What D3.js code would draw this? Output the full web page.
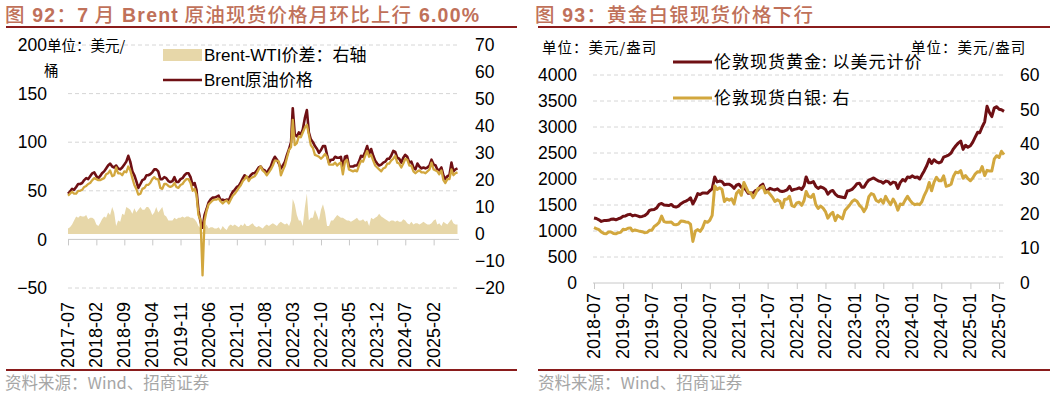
<!DOCTYPE html>
<html><head><meta charset="utf-8">
<script src="https://cdn.jsdelivr.net/npm/d3@7"></script>
<style>
html,body{margin:0;padding:0;background:#fff;}
svg{display:block;}
text{font-family:"Liberation Sans",Arial,"Noto Sans CJK SC",sans-serif;}
.cjk{font-family:"Noto Sans CJK SC","Liberation Sans",sans-serif;}
</style></head>
<body>
<svg id="c" width="1052" height="393"></svg>
<script>
// ---------- Chart 92: Brent / WTI / spread (semi-monthly, from 2017-07) ----------
const oilStart = "2017-07";
const brent = [
47,49,52,51,54,57,57,58,61,63,62,65,
68,69,65,63,65,68,70,73,76,78,75,74,76,73,72,74,77,80,86,80,70,66,60,53,
57,61,62,66,66,67,69,72,72,70,62,62,64,63,60,59,60,64,59,59,62,63,66,68,
68,64,56,58,51,30,18,12,25,31,38,41,43,43,44,45,40,41,40,41,40,45,49,51,
54,55,59,63,66,64,63,66,68,68,71,74,75,72,71,68,72,75,81,85,82,78,73,76,
80,87,93,100,135,108,106,110,108,113,125,133,110,103,100,96,93,89,92,96,96,87,79,82,
82,85,84,84,85,73,85,86,75,75,75,76,76,80,86,85,90,96,88,93,86,81,78,76,
77,79,80,83,83,86,91,90,84,83,79,84,87,85,79,80,74,72,78,75,73,74,73,74,
76,82,77,76,72,71,74,66,62,65,66,79,70,72,73];
const wti = [
45,47,49,47,47,50,50,51,54,55,57,58,
61,63,62,61,61,62,63,67,68,71,65,66,74,68,68,66,70,69,75,71,63,56,52,46,
47,52,53,56,56,58,62,64,62,62,53,52,57,57,55,54,55,58,54,53,56,57,60,62,
62,58,50,52,46,25,20,-37,19,29,36,38,40,41,41,42,39,37,39,40,37,41,45,47,
50,53,56,60,62,65,60,63,64,65,68,72,75,71,69,66,69,72,76,81,81,80,66,71,
76,84,92,95,123,97,99,106,105,110,115,118,108,97,94,87,86,85,83,85,88,85,77,77,
77,79,76,78,79,67,80,82,72,71,70,71,70,76,81,80,86,91,85,87,81,76,74,72,
70,73,74,78,78,81,83,86,79,78,74,78,83,82,76,76,70,68,70,71,69,69,68,70,
72,79,72,71,70,67,71,61,58,62,62,72,66,68,69];
const spread = [
2,2.5,3.5,5,6.5,6,6.8,6.5,6.5,7,5.5,6,
6,5.5,3.5,3,4,5.5,6.5,6,8,7,10,8,3,5,4.5,7.5,7,10,9.5,9,7.5,9.5,8,9,
10,9,9,10,10,9,7,8,10,8,9,10,7,6.5,5,5,5,6,5.5,6,6,6.5,6,6.5,
6.5,6,6,5.5,4.5,3,2,0.5,2,3.5,2,2.5,2.5,2,2,2.5,1.5,3,2,1.5,3,3.5,3,3.5,
3,2.5,3.5,3,4,3,3,3.5,4,3,2.5,3,2.5,2,3,3.5,3,3.5,4,3.5,3,4,4.5,4,
3.5,4,3,5,13,11,7,5,5,3,10,15,5,6,6,9,7,5,9,11,8,3,3,5,
5,6,7,6.5,6,6,5.5,5,5,4.5,5,5.5,6,5,5,5.5,4.5,5,3,6,5.5,6,6.5,7.5,
6.5,6,5.5,5,4.5,5,5,4.5,5,4.5,4.5,5.5,5,4,3.5,4.5,3.5,4,4,3.5,4,4.5,4,3.5,
3.5,4,5,5.5,3.5,4,3,4.5,4,3.5,4.5,5.5,4,3.5,3.5];
const oilTicks = ["2017-07","2018-02","2018-09","2019-04","2019-11","2020-06","2021-01","2021-08","2022-03","2022-10","2023-05","2023-12","2024-07","2025-02"];
const oilLeftTicks = [-50,0,50,100,150,200];
const oilRightTicks = [-20,-10,0,10,20,30,40,50,60,70];

// ---------- Chart 93: gold / silver (semi-monthly, from 2018-07) ----------
const metalStart = "2018-07";
const gold = [
1250,1240,1215,1185,1200,1200,1205,1225,1230,1215,1235,1250,
1285,1290,1315,1320,1290,1305,1290,1275,1280,1295,1330,1395,1410,1415,1445,1510,1530,1500,1495,1490,1510,1470,1460,1480,
1525,1555,1575,1600,1640,1520,1610,1720,1700,1730,1730,1725,1775,1810,2040,1945,1960,1950,1890,1900,1900,1870,1820,1880,
1900,1840,1840,1780,1725,1730,1730,1780,1790,1865,1900,1780,1780,1820,1800,1790,1810,1770,1760,1770,1790,1860,1780,1800,
1810,1830,1800,1870,2040,1930,1930,1950,1860,1820,1850,1830,1800,1710,1760,1780,1710,1670,1660,1650,1640,1770,1780,1800,
1850,1910,1920,1840,1840,1920,1980,2000,2020,1990,1960,1950,1920,1960,1950,1900,1940,1930,1820,1930,1990,1960,2040,2030,
2060,2030,2040,2000,2080,2160,2260,2380,2300,2370,2330,2310,2330,2420,2440,2460,2500,2580,2640,2690,2730,2570,2650,2610,
2640,2710,2810,2900,2890,3000,3100,3400,3280,3200,3370,3390,3340,3330,3300];
const silver = [
16.0,15.7,15.4,14.7,14.3,14.2,14.7,14.7,14.3,14.2,14.5,14.6,
15.5,15.4,15.8,15.9,15.0,15.3,15.1,14.9,14.8,14.5,14.6,15.2,15.2,16.3,16.8,17.5,19.3,17.7,17.5,17.5,17.6,16.9,16.8,17.0,
17.9,17.8,17.6,17.5,17.0,12.0,15.0,15.4,14.9,15.9,17.8,17.5,18.1,19.5,28.0,27.0,27.5,27.0,23.5,24.3,23.9,24.3,22.8,25.8,
26.7,25.3,29.0,27.5,26.2,26.0,24.6,25.8,27.3,27.4,27.9,26.0,26.4,25.6,24.7,23.5,24.0,23.6,21.7,24.1,24.2,25.0,22.3,22.0,
23.1,23.3,22.4,23.8,26.4,25.0,24.7,25.6,22.6,21.5,22.2,21.6,20.6,18.7,19.8,20.4,18.0,19.5,19.0,18.5,20.9,21.7,22.5,23.5,
24.0,23.6,22.4,21.7,20.6,21.8,24.9,25.8,25.5,23.9,23.4,24.1,23.0,25.0,23.6,22.6,24.2,23.0,21.0,22.8,22.6,23.9,25.0,23.9,
23.0,22.6,22.8,22.6,23.5,25.3,26.8,29.0,26.6,29.0,30.5,29.5,29.5,30.9,27.9,28.1,28.5,30.8,32.0,31.8,32.4,30.2,31.0,30.1,
29.5,30.3,31.5,32.1,32.0,33.6,31.0,32.5,32.3,32.3,35.8,36.7,36.2,38.0,37.0];
const metalTicks = ["2018-07","2019-01","2019-07","2020-01","2020-07","2021-01","2021-07","2022-01","2022-07","2023-01","2023-07","2024-01","2024-07","2025-01","2025-07"];
const metalLeftTicks = [0,500,1000,1500,2000,2500,3000,3500,4000];
const metalRightTicks = [0,10,20,30,40,50,60];

// ---------- helpers ----------
const parseM = d3.timeParse("%Y-%m");
function semiDates(start, n){ // category dates: 1st and 16th of each month
  const s = parseM(start);
  return d3.range(n).map(i => { const d = d3.timeMonth.offset(s, Math.floor(i/2)); if(i%2) d.setDate(16); return d; });
}
const svg = d3.select("#c");
const MAROON = "#6f1014", GOLDC = "#d2a73e", SPREADC = "#e7d7a9", RED = "#8a1c1c", TITLEC = "#c0715a";
const FS = 17.5;
const fmt = d3.format("d");

// title drawn as consecutive separate text pieces (Latin bold, CJK regular)
function title(x0, parts){
  let x = x0;
  parts.forEach(p => {
    const t = svg.append("text").attr("x", x).attr("y", 22).attr("fill", TITLEC)
      .style("font-size","19.5px").style("letter-spacing","1.2px")
      .style("font-family", p[1] ? "Liberation Sans, Arial" : "Noto Sans CJK SC")
      .style("font-weight", p[1] ? "bold" : "500").style("white-space","pre").text(p[0]);
    x += t.node().getComputedTextLength() + (p[0].endsWith(" ") ? 0 : 0);
  });
}
function hline(x1,x2,y){ svg.append("line").attr("x1",x1).attr("x2",x2).attr("y1",y).attr("y2",y).attr("stroke",RED).attr("stroke-width",2); }
function source(x){ svg.append("text").attr("class","cjk").attr("x",x).attr("y",389).attr("fill","#a6a6a6").style("font-size","16.5px").text("资料来源：Wind、招商证券"); }
function styleLabels(sel){ sel.selectAll("text").style("font-size",FS+"px").attr("fill","#000").style("font-family","Liberation Sans, Arial"); }

// ===== Chart 92 =====
title(5, [["图",0],[" 92",1],["：",0],["7",1],[" 月",0],[" Brent",1],[" 原油现货价格月环比上行",0],[" 6.00%",1]]);
hline(6, 517, 27);
hline(6, 517, 370);
source(5);
{
  const n = brent.length, dates = semiDates(oilStart, n);
  const x = d3.scaleTime().domain([parseM("2017-07"), parseM("2025-08")]).range([68, 457.5]);
  const yL = d3.scaleLinear().domain([-50,200]).range([288,45]);
  const yR = d3.scaleLinear().domain([-20,70]).range([288,45]);
  const g = svg.append("g");
  g.selectAll(".gl").data(oilLeftTicks.filter(v=>v!==0)).enter().append("line")
    .attr("x1",68).attr("x2",459).attr("y1",d=>yL(d)).attr("y2",d=>yL(d))
    .attr("stroke","#d6d6d6").attr("stroke-dasharray","4,3");
  const area = d3.area().x((d,i)=>x(dates[i])).y0(yR(0)).y1(d=>yR(d));
  g.append("path").datum(spread).attr("d",area).attr("fill",SPREADC);
  const xa = g.append("g").attr("transform",`translate(0,${yL(0)})`)
    .call(d3.axisBottom(x).tickValues(oilTicks.map(parseM)).tickSize(6).tickFormat(""));
  xa.select(".domain").attr("stroke","#c8c8c8").attr("d","M68,0H459");
  xa.selectAll(".tick line").attr("stroke","#c8c8c8");
  const line = d3.line().x((d,i)=>x(dates[i])).y(d=>yL(d));
  g.append("path").datum(brent).attr("d",line).attr("fill","none").attr("stroke",MAROON).attr("stroke-width",2.6).attr("stroke-linejoin","round");
  g.append("path").datum(wti).attr("d",line).attr("fill","none").attr("stroke",GOLDC).attr("stroke-width",2.3).attr("stroke-linejoin","round");
  const al = g.append("g").attr("transform","translate(47,0)").call(d3.axisLeft(yL).tickValues(oilLeftTicks).tickFormat(fmt).tickSize(0).tickPadding(0));
  al.select(".domain").remove(); styleLabels(al);
  const ar = g.append("g").attr("transform","translate(475,0)").call(d3.axisRight(yR).tickValues(oilRightTicks).tickFormat(fmt).tickSize(0).tickPadding(0));
  ar.select(".domain").remove(); styleLabels(ar);
  g.selectAll(".xl").data(oilTicks).enter().append("text")
    .attr("transform",d=>`translate(${x(parseM(d))+6},302) rotate(-90)`)
    .attr("text-anchor","end").style("font-size","18px").attr("fill","#000").text(d=>d);
  g.append("text").attr("class","cjk").attr("x",47).attr("y",51).style("font-size","14.5px").text("单位：美元/");
  g.append("text").attr("class","cjk").attr("x",44).attr("y",76).style("font-size","14.5px").text("桶");
  g.append("rect").attr("x",163).attr("y",49).attr("width",39).attr("height",12).attr("fill",SPREADC);
  g.append("text").attr("x",204).attr("y",61).style("font-size","17px").text("Brent-WTI价差：右轴");
  g.append("line").attr("x1",163).attr("x2",202).attr("y1",80).attr("y2",80).attr("stroke",MAROON).attr("stroke-width",2.5);
  g.append("text").attr("x",204).attr("y",86).style("font-size","17px").text("Brent原油价格");
}

// ===== Chart 93 =====
title(535, [["图",0],[" 93",1],["：黄金白银现货价格下行",0]]);
hline(538, 1050, 27);
hline(538, 1050, 370);
source(538);
{
  const n = gold.length, dates = semiDates(metalStart, n);
  const x = d3.scaleTime().domain([parseM("2018-07"), parseM("2025-08")]).range([594, 1004]);
  const yL = d3.scaleLinear().domain([0,4000]).range([283,75]);
  const yR = d3.scaleLinear().domain([0,60]).range([283,75]);
  const g = svg.append("g");
  g.selectAll(".gl").data(metalLeftTicks.filter(v=>v!==0)).enter().append("line")
    .attr("x1",593).attr("x2",1004).attr("y1",d=>yL(d)).attr("y2",d=>yL(d))
    .attr("stroke","#d6d6d6").attr("stroke-dasharray","4,3");
  const xa = g.append("g").attr("transform",`translate(0,${yL(0)})`)
    .call(d3.axisBottom(x).tickValues(metalTicks.map(parseM)).tickSize(6).tickFormat(""));
  xa.select(".domain").attr("stroke","#c8c8c8").attr("d","M593,0H1004");
  xa.selectAll(".tick line").attr("stroke","#c8c8c8");
  const lineL = d3.line().x((d,i)=>x(dates[i])).y(d=>yL(d));
  const lineR = d3.line().x((d,i)=>x(dates[i])).y(d=>yR(d));
  g.append("path").datum(gold).attr("d",lineL).attr("fill","none").attr("stroke",MAROON).attr("stroke-width",3).attr("stroke-linejoin","round");
  g.append("path").datum(silver).attr("d",lineR).attr("fill","none").attr("stroke",GOLDC).attr("stroke-width",3).attr("stroke-linejoin","round");
  const al = g.append("g").attr("transform","translate(577,0)").call(d3.axisLeft(yL).tickValues(metalLeftTicks).tickFormat(fmt).tickSize(0).tickPadding(0));
  al.select(".domain").remove(); styleLabels(al);
  const ar = g.append("g").attr("transform","translate(1020,0)").call(d3.axisRight(yR).tickValues(metalRightTicks).tickFormat(fmt).tickSize(0).tickPadding(0));
  ar.select(".domain").remove(); styleLabels(ar);
  g.selectAll(".xl").data(metalTicks).enter().append("text")
    .attr("transform",d=>`translate(${x(parseM(d))+6},293) rotate(-90)`)
    .attr("text-anchor","end").style("font-size","18px").attr("fill","#000").text(d=>d);
  g.append("text").attr("class","cjk").attr("x",542).attr("y",53).style("font-size","14.5px").style("letter-spacing","1px").text("单位：美元/盎司");
  g.append("text").attr("class","cjk").attr("x",911).attr("y",53).style("font-size","14.5px").style("letter-spacing","1px").text("单位：美元/盎司");
  g.append("line").attr("x1",673).attr("x2",712).attr("y1",62).attr("y2",62).attr("stroke",MAROON).attr("stroke-width",3);
  g.append("text").attr("class","cjk").attr("x",714).attr("y",68).style("font-size","17px").style("letter-spacing","1px").text("伦敦现货黄金: 以美元计价");
  g.append("line").attr("x1",673).attr("x2",712).attr("y1",98).attr("y2",98).attr("stroke",GOLDC).attr("stroke-width",3);
  g.append("text").attr("class","cjk").attr("x",714).attr("y",104).style("font-size","17px").style("letter-spacing","1px").text("伦敦现货白银: 右");
}
</script>
</body></html>
